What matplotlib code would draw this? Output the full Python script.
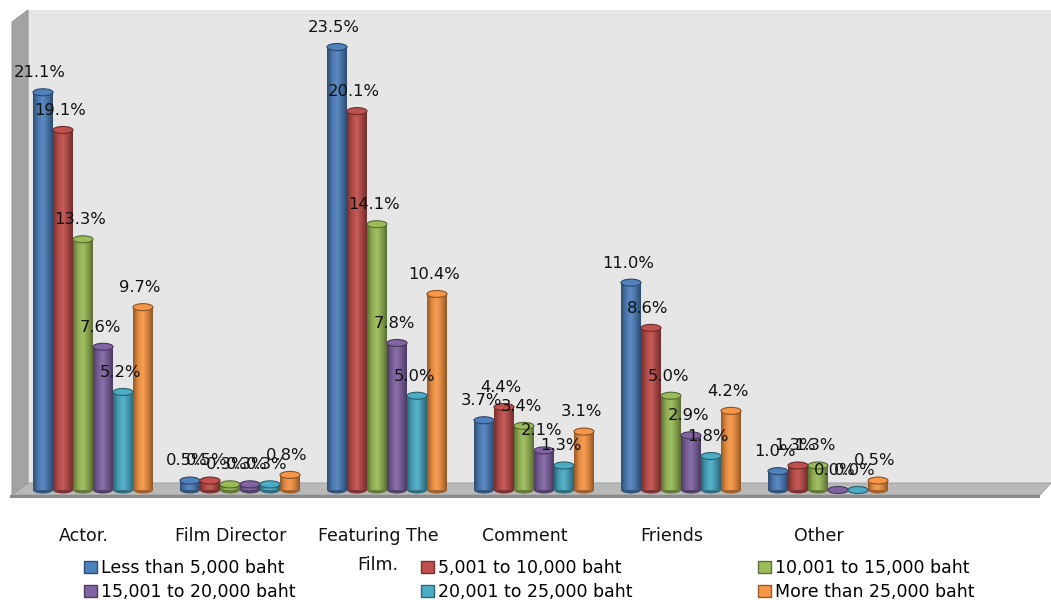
import numpy as np
import matplotlib.pyplot as plt
from matplotlib.patches import Ellipse, Polygon, Patch
from matplotlib.colors import LinearSegmentedColormap, to_rgb

# DATA (percent of respondents)

categories = ['Actor.', 'Film Director', 'Featuring The\nFilm.', 'Comment', 'Friends', 'Other']
series_names = ['Less than 5,000 baht', '5,001 to 10,000 baht', '10,001 to 15,000 baht',
                '15,001 to 20,000 baht', '20,001 to 25,000 baht', 'More than 25,000 baht']
less_5000 = [21.1, 0.5, 23.5, 3.7, 11.0, 1.0]
from_5001 = [19.1, 0.5, 20.1, 4.4, 8.6, 1.3]
from_10001 = [13.3, 0.3, 14.1, 3.4, 5.0, 1.3]
from_15001 = [7.6, 0.3, 7.8, 2.1, 2.9, 0.0]
from_20001 = [5.2, 0.3, 5.0, 1.3, 1.8, 0.0]
more_25000 = [9.7, 0.8, 10.4, 3.1, 4.2, 0.5]
series = [less_5000, from_5001, from_10001, from_15001, from_20001, more_25000]
colors = ['#4F81BD', '#C0504D', '#9BBB59', '#8064A2', '#4BACC6', '#F79646']

# LAYOUT (pixel -> data mapping, axes fill the whole figure)

W, H = 1051, 600
X0, PX_CAT = 93, 147.0      # pixel x of first group centre, pixels per category
Y0, PX_PCT = 490, 18.85     # pixel y of zero line, pixels per percent


def px(x, y):
    return ((x - X0) / PX_CAT, (Y0 - y) / PX_PCT)


def shade(c, f):
    c = np.array(to_rgb(c))
    if f < 1:
        return tuple(c * f)
    return tuple(c + (1 - c) * (f - 1))


fig = plt.figure(figsize=(W / 100, H / 100), dpi=100)
ax = fig.add_axes([0, 0, 1, 1])
ax.axis('off')

# walls and floor
ax.add_patch(Polygon([px(28, 10), px(1051, 10), px(1051, 483), px(28, 483)],
                     closed=True, facecolor='#e6e6e6', edgecolor='none', zorder=0))
ax.add_patch(Polygon([px(12, 22), px(28, 10), px(28, 483), px(12, 495)],
                     closed=True, facecolor='#a3a3a3', edgecolor='#8c8c8c', lw=0.6, zorder=1))
ax.add_patch(Polygon([px(12, 495), px(28, 483), px(1051, 483), px(1040, 495)],
                     closed=True, facecolor='#b9b9b9', edgecolor='#9a9a9a', lw=0.6, zorder=1))
ax.add_patch(Polygon([px(10, 495), px(1040, 495), px(1040, 498), px(10, 498)],
                     closed=True, facecolor='#8a8a8a', edgecolor='none', zorder=1))

# CYLINDER BARS

n = len(series)
w = 20 / PX_CAT
eh = 7 / PX_PCT
grad = np.linspace(0, 1, 64).reshape(1, -1)
x = np.arange(len(categories))

for j, (vals, c) in enumerate(zip(series, colors)):
    cmap = LinearSegmentedColormap.from_list(
        's%d' % j, [shade(c, 0.6), shade(c, 0.92), shade(c, 1.08), shade(c, 0.85), shade(c, 0.58)])
    xs = x + (j - (n - 1) / 2) * w
    bars = ax.bar(xs, vals, w, color=c, zorder=3)
    for xi, v, rect in zip(xs, vals, bars):
        ax.add_patch(Ellipse((xi, 0), w, eh, facecolor=shade(c, 0.65), edgecolor='none', zorder=2.9))
        if v > 0:
            im = ax.imshow(grad, extent=(xi - w / 2, xi + w / 2, 0, v), cmap=cmap,
                           aspect='auto', zorder=3.1, interpolation='bilinear')
            im.set_clip_path(rect)
        ax.add_patch(Ellipse((xi, v), w, eh, facecolor=shade(c, 1.0),
                             edgecolor=shade(c, 0.55), lw=0.8, zorder=3.2))
        ax.text(xi - 0.02, v + 0.8, '%.1f%%' % v, ha='center', va='baseline',
                fontsize=11.8, color='#111111', zorder=10)

# category labels
for i, cat in enumerate(categories):
    ax.text(i - 0.06, px(0, 527)[1], cat, ha='center', va='top', fontsize=12.5,
            linespacing=1.75, color='#111111')

ax.set_xlim(px(0, 0)[0], px(W, 0)[0])
ax.set_ylim(px(0, H)[1], px(0, 0)[1])

# legend, filled row by row like the original
handles = [Patch(facecolor=c, edgecolor=shade(c, 0.6), lw=1.0) for c in colors]
order = [0, 3, 1, 4, 2, 5]
fig.legend([handles[k] for k in order], [series_names[k] for k in order],
           ncol=3, loc='upper left', bbox_to_anchor=(84 / W, 1 - 559 / H),
           frameon=False, fontsize=12.5, handlelength=0.75, handleheight=0.75,
           handletextpad=0.25, columnspacing=7.2, labelspacing=0.35,
           borderpad=0, borderaxespad=0)

fig.savefig('out.png', dpi=100)
